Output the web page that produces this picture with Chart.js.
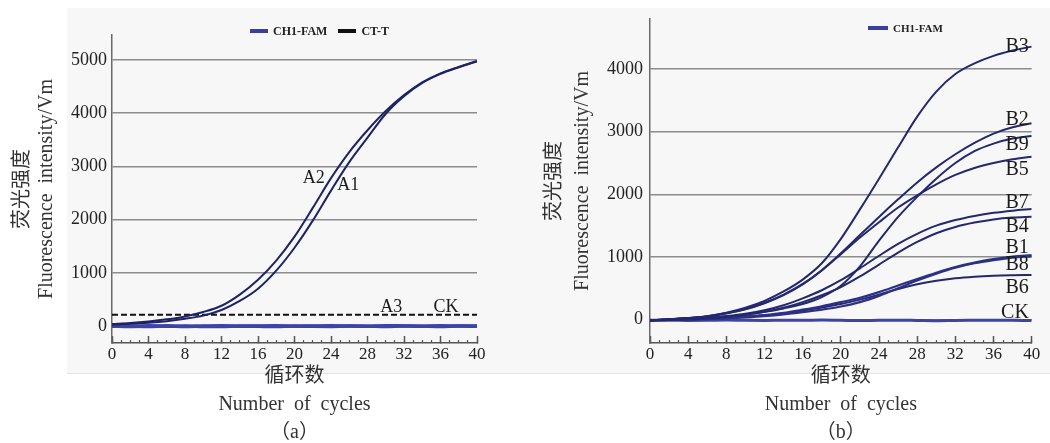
<!DOCTYPE html>
<html>
<head>
<meta charset="utf-8">
<script src="https://cdn.jsdelivr.net/npm/chart.js@4.4.0/dist/chart.umd.min.js"></script>
<style>
  html, body { margin: 0; padding: 0; background: #fff; }
  body { width: 1050px; height: 443px; position: relative; overflow: hidden; }
  #panel-bg { position: absolute; left: 67px; top: 8px; width: 983px; height: 365px; background: #f7f7f7; border-bottom: 1px solid #e6e6e6; }
  canvas { position: absolute; top: 0; }
  #chart-a { left: 0; }
  #chart-b { left: 525px; }
  .legend { position: absolute; display: flex; align-items: center; font-family: "Liberation Serif", serif; font-weight: bold; color: #222; white-space: nowrap; line-height: 14px; }
  .legend .item { display: flex; align-items: center; }
  .legend .swatch { display: inline-block; height: 4px; }
  #legend-a { left: 250px; top: 24px; font-size: 12px; }
  #legend-b { left: 868px; top: 21px; font-size: 11px; }
</style>
</head>
<body>
<div id="panel-bg"></div>
<canvas id="chart-a" width="525" height="443"></canvas>
<canvas id="chart-b" width="525" height="443"></canvas>
<div id="legend-a" class="legend"></div>
<div id="legend-b" class="legend"></div>
<script>
// cycles sampled every 2
const cycles = [0, 2, 4, 6, 8, 10, 12, 14, 16, 18, 20, 22, 24, 26, 28, 30, 32, 34, 36, 38, 40];

// panel (a)
const seriesA2 = [35, 55, 85, 125, 180, 262, 380, 590, 870, 1230, 1680, 2220, 2780, 3270, 3680, 4040, 4340, 4580, 4750, 4870, 4980];
const seriesA1 = [25, 40, 60, 90, 135, 195, 300, 470, 700, 1040, 1470, 1980, 2545, 3080, 3540, 3990, 4320, 4570, 4740, 4865, 4975];
const seriesA3 = [5, 0, -8, 2, -10, -2, 4, -4, 0, 2, -6, 0, 4, -2, -4, 6, 0, -6, 2, -2, 0];
const seriesCKa = [-4, -10, 2, -6, 0, -8, -12, -2, -6, -10, 0, -6, -8, -2, -4, -10, -2, -4, -10, -2, -6];
const thresholdA = 210;
const yTicksA = [0, 1000, 2000, 3000, 4000, 5000];
const curveNamesA = ['A2', 'A1', 'A3', 'CK'];
const curveNameCycleA = [22.1, 25.9, 30.6, 36.6];
const curveNameValueA = [2786, 2645, 347, 347];
const legendA = ['CH1-FAM', 'CT-T'];

// panel (b)
const seriesB3 = [-10, 5, 25, 55, 110, 190, 300, 450, 640, 900, 1290, 1760, 2250, 2750, 3240, 3640, 3920, 4090, 4210, 4295, 4357];
const seriesB2 = [-10, 5, 25, 55, 105, 170, 270, 400, 570, 790, 1060, 1350, 1640, 1920, 2190, 2430, 2640, 2820, 2970, 3070, 3134];
const seriesB5 = [-10, 5, 25, 52, 100, 165, 262, 392, 562, 785, 1045, 1310, 1555, 1790, 1985, 2160, 2310, 2420, 2500, 2560, 2601];
const seriesB9 = [-10, 0, 10, 25, 50, 80, 125, 180, 250, 360, 540, 850, 1260, 1640, 1960, 2250, 2500, 2690, 2810, 2890, 2931];
const seriesB7 = [-10, 0, 12, 30, 58, 95, 150, 230, 340, 470, 630, 820, 1020, 1210, 1370, 1500, 1590, 1655, 1705, 1740, 1766];
const seriesB4 = [-10, 0, 10, 25, 48, 80, 125, 190, 280, 390, 520, 690, 880, 1070, 1240, 1380, 1480, 1550, 1600, 1630, 1644];
const seriesB1 = [-10, -5, 5, 15, 30, 50, 75, 110, 160, 215, 280, 350, 440, 545, 650, 750, 840, 910, 965, 1005, 1030];
const seriesB8 = [-10, -5, 2, 10, 22, 38, 58, 85, 120, 160, 210, 280, 380, 500, 625, 735, 830, 900, 950, 990, 1010];
const seriesB6 = [-10, -5, 4, 13, 26, 45, 70, 100, 145, 195, 250, 320, 400, 490, 565, 620, 660, 685, 700, 708, 713];
const seriesCKb = [-10, -8, -12, -10, -6, -10, -12, -8, -10, -6, -10, -14, -10, -8, -12, -16, -12, -10, -8, -10, -12];
const yTicksB = [0, 1000, 2000, 3000, 4000];
const curveNamesB = ['B3', 'B2', 'B9', 'B5', 'B7', 'B4', 'B1', 'B8', 'B6', 'CK'];
const curveNameCycleB = [39.7, 39.7, 39.7, 39.7, 39.7, 39.7, 39.7, 39.7, 39.7, 39.7];
const curveNameValueB = [4357, 3186, 2787, 2388, 1861, 1489, 1144, 878, 506, 118];
const legendB = ['CH1-FAM'];


const SERIF = '"Liberation Serif", "Noto Sans CJK SC", serif';
Chart.defaults.font.family = SERIF;
Chart.defaults.color = '#222';

const toPoints = (vals) => vals.map((v, i) => ({x: cycles[i], y: v}));

// names written next to the curves, placed in data units
const curveLabels = {
    id: 'curveLabels',
    afterDatasetsDraw(chart, args, opts) {
        const {ctx, scales: {x, y}} = chart;
        ctx.save();
        ctx.font = opts.font;
        ctx.fillStyle = '#1a1a1a';
        ctx.textAlign = opts.align;
        ctx.textBaseline = 'middle';
        opts.names.forEach((name, i) => {
            ctx.fillText(name, x.getPixelForValue(opts.xs[i]), y.getPixelForValue(opts.ys[i]));
        });
        ctx.restore();
    }
};

// legend as html so it can sit over the plot top
const htmlLegend = {
    id: 'htmlLegend',
    afterUpdate(chart, args, opts) {
        const box = document.getElementById(opts.containerID);
        box.innerHTML = '';
        opts.items.forEach((name, i) => {
            const item = document.createElement('span');
            item.className = 'item';
            const sw = document.createElement('span');
            sw.className = 'swatch';
            sw.style.background = opts.colors[i];
            sw.style.width = opts.swatchWidth + 'px';
            sw.style.marginRight = '5px';
            item.appendChild(sw);
            item.appendChild(document.createTextNode(name));
            if (i < opts.items.length - 1) item.style.marginRight = '11px';
            box.appendChild(item);
        });
    }
};

function curve(label, vals, color, width) {
    return {
        label: label,
        data: toPoints(vals),
        borderColor: color,
        borderWidth: width,
        pointRadius: 0,
        cubicInterpolationMode: 'monotone',
        fill: false
    };
}

function scalesFor(yMin, yMax, yTicks, yAxisWidth, yTitlePad, yTitleLH, yTickPad, panelTag) {
    return {
        x: {
            type: 'linear',
            min: 0,
            max: 40,
            afterFit: (s) => { s.height = 100; },
            border: {color: '#555', width: 1.5},
            grid: {drawOnChartArea: false, tickLength: -7, tickColor: '#555', tickWidth: 1.5},
            ticks: {stepSize: 4, padding: 8, color: '#222', font: {size: 17}, callback: (v) => String(v)},
            title: {
                display: true,
                text: ['循环数', 'Number  of  cycles', panelTag],
                color: '#333',
                font: {size: 20, lineHeight: 1.4},
                padding: {top: 0, bottom: -4}
            }
        },
        xMinor: {
            type: 'linear',
            axis: 'x',
            min: 0,
            max: 40,
            position: {y: yMin},
            border: {display: false},
            grid: {drawOnChartArea: false, tickLength: -3, tickColor: '#555', tickWidth: 1.2},
            ticks: {display: false, stepSize: 1, autoSkip: false}
        },
        y: {
            min: yMin,
            max: yMax,
            afterBuildTicks: (s) => { s.ticks = yTicks.map((v) => ({value: v})); },
            afterFit: (s) => { s.width = yAxisWidth; },
            border: {color: '#6a6a6a', width: 1.5},
            grid: {color: '#8c8c8c', lineWidth: 1.5, drawTicks: false},
            ticks: {padding: yTickPad, color: '#222', font: {size: 18}, callback: (v) => String(v)},
            title: {
                display: true,
                text: ['荧光强度', 'Fluorescence  intensity/Vm'],
                color: '#333',
                font: {size: 20, lineHeight: yTitleLH},
                padding: {top: yTitlePad, bottom: 0}
            }
        }
    };
}

const thresholdSet = {
    label: 'CT-T',
    data: [{x: 0, y: thresholdA}, {x: 40, y: thresholdA}],
    borderColor: '#111',
    borderWidth: 2,
    borderDash: [6, 3],
    pointRadius: 0,
    fill: false
};

new Chart(document.getElementById('chart-a').getContext('2d'), {
    type: 'line',
    data: {
        datasets: [
            curve('A2', seriesA2, '#1f2266', 2),
            curve('A1', seriesA1, '#1f2266', 2),
            curve('A3', seriesA3, '#3d44a8', 3.5),
            curve('CK', seriesCKa, '#3d44a8', 3.5),
            thresholdSet
        ]
    },
    options: {
        responsive: false,
        animation: false,
        devicePixelRatio: 1,
        layout: {padding: {left: 0, top: 35, right: 48, bottom: 0}},
        scales: scalesFor(-320, 5470, yTicksA, 112, 10.5, 1.2, 5, '（a）'),
        plugins: {
            legend: {display: false},
            tooltip: {enabled: false},
            curveLabels: {names: curveNamesA, xs: curveNameCycleA, ys: curveNameValueA, font: '18px ' + SERIF, align: 'center'},
            htmlLegend: {containerID: 'legend-a', items: legendA, colors: ['#3a3f9e', '#111'], swatchWidth: 18}
        }
    },
    plugins: [curveLabels, htmlLegend]
});

new Chart(document.getElementById('chart-b').getContext('2d'), {
    type: 'line',
    data: {
        datasets: [
            curve('B3', seriesB3, '#24286f', 2),
            curve('B2', seriesB2, '#24286f', 2),
            curve('B9', seriesB9, '#24286f', 2),
            curve('B5', seriesB5, '#24286f', 2),
            curve('B7', seriesB7, '#24286f', 2),
            curve('B4', seriesB4, '#24286f', 2),
            curve('B1', seriesB1, '#2c3185', 2.2),
            curve('B8', seriesB8, '#2c3185', 2.2),
            curve('B6', seriesB6, '#24286f', 2),
            curve('CK', seriesCKb, '#3d44a8', 3)
        ]
    },
    options: {
        responsive: false,
        animation: false,
        devicePixelRatio: 1,
        layout: {padding: {left: 0, top: 19, right: 18.3, bottom: 0}},
        scales: scalesFor(-372, 4798, yTicksB, 125, 16, 1.4, 7, '（b）'),
        plugins: {
            legend: {display: false},
            tooltip: {enabled: false},
            curveLabels: {names: curveNamesB, xs: curveNameCycleB, ys: curveNameValueB, font: '20px ' + SERIF, align: 'right'},
            htmlLegend: {containerID: 'legend-b', items: legendB, colors: ['#3a3f9e'], swatchWidth: 20}
        }
    },
    plugins: [curveLabels, htmlLegend]
});
</script>
</body>
</html>
